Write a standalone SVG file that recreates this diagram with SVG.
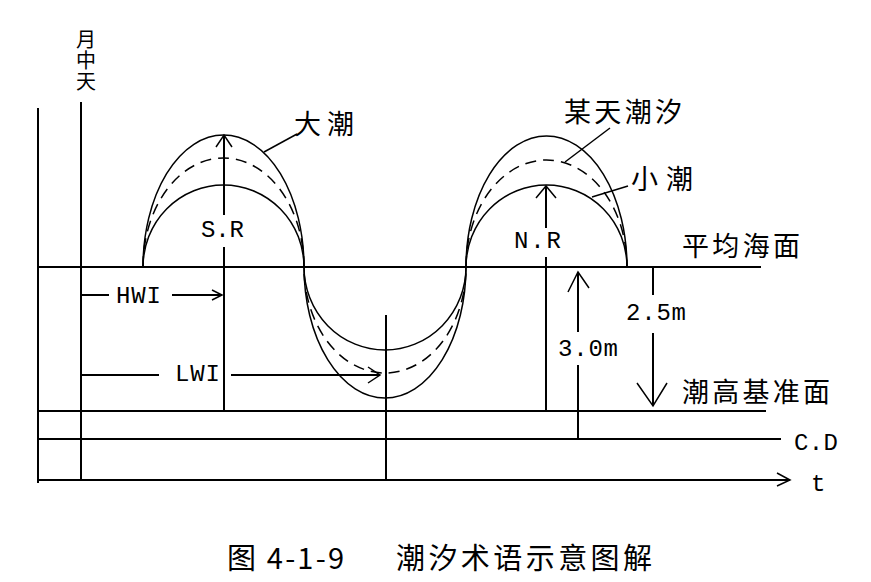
<svg xmlns="http://www.w3.org/2000/svg" width="871" height="582" viewBox="0 0 871 582">
<style>
.ln{stroke:#000;stroke-width:2;fill:none}
.cv{stroke:#000;stroke-width:1.5;fill:none}
.ds{stroke-dasharray:11 7}
.ar{stroke:#000;stroke-width:1.5;fill:none}
.zh{font-family:"Noto Sans CJK SC","Noto Sans",sans-serif;font-size:27px;fill:#000}
.vt{font-family:"Noto Sans CJK SC","Noto Sans",sans-serif;font-size:20px;fill:#000;writing-mode:vertical-rl;letter-spacing:1px}
.mo{font-family:"Liberation Mono",monospace;font-size:24px;fill:#000}
.cap{font-family:"Noto Sans CJK SC","Noto Sans",sans-serif;font-size:29px;fill:#000}
</style>
<rect width="871" height="582" fill="#fff"/>
<g id="axes">
<path class="ln" d="M38,108V483 M81,102V480 M38,267H761 M38,411H766 M38,439H781 M38,480H790"/>
<path class="ar" d="M777,473L790,480L777,486"/>
</g>
<g id="tides">
<path id="spring" class="cv" d="M143,267A80.5,132 0 0 1 304,267A81,131 0 0 0 466,267A80.5,131 0 0 1 627,267"/>
<path id="someday" class="cv ds" d="M143,267A80.5,109 0 0 1 304,267A81,106 0 0 0 466,267A80.5,107 0 0 1 627,267"/>
<path id="neap" class="cv" d="M143,267A80.5,82 0 0 1 304,267A81,83 0 0 0 466,267A80.5,82 0 0 1 627,267"/>
</g>
<g id="connectors">
<path class="ln" d="M224,135V215 M224,247V411"/>
<path class="ar" d="M216,147L224,135L232,147"/>
<path class="ln" d="M546,186V228 M546,257V411"/>
<path class="ar" d="M536,198L546,186L556,198"/>
<path class="ln" d="M386,315V480"/>
<path class="ln" d="M82,295H109 M172,295H222"/>
<path class="ar" d="M212,290L222,295L212,300"/>
<path class="ln" d="M82,375H159 M231,375H380"/>
<path class="ar" d="M368,367L380,375L368,383"/>
<path class="ln" d="M653,267V295 M653,333V406"/>
<path class="ar" d="M637,383L653,406L667,383"/>
<path class="ln" d="M578,272V332 M578,365V438"/>
<path class="ar" d="M568,292L578,272L589,288"/>
<path class="ar" d="M264,152L297,134"/>
<path class="ar" d="M610,128L565,162"/>
<path class="ar" d="M628,186L592,197"/>
</g>
<g id="labels">
<text class="vt" x="86" y="29">月中天</text>
<text class="zh" x="294" y="134" textLength="60" lengthAdjust="spacing">大潮</text>
<text class="zh" x="564" y="122" textLength="118" lengthAdjust="spacing">某天潮汐</text>
<text class="zh" x="631" y="189" textLength="62" lengthAdjust="spacing">小潮</text>
<text class="zh" x="682" y="256" textLength="118" lengthAdjust="spacing">平均海面</text>
<text class="zh" x="682" y="402" textLength="148" lengthAdjust="spacing">潮高基准面</text>
<text class="mo" x="116" y="303" textLength="45" lengthAdjust="spacing">HWI</text>
<text class="mo" x="175" y="381" textLength="45" lengthAdjust="spacing">LWI</text>
<text class="mo" x="201" y="237" textLength="43" lengthAdjust="spacing">S.R</text>
<text class="mo" x="514" y="248" textLength="47" lengthAdjust="spacing">N.R</text>
<text class="mo" x="626" y="320" textLength="60" lengthAdjust="spacing">2.5m</text>
<text class="mo" x="558" y="356" textLength="60" lengthAdjust="spacing">3.0m</text>
<text class="mo" x="794" y="450" textLength="44" lengthAdjust="spacing">C.D</text>
<text class="mo" x="811" y="491">t</text>
</g>
<g id="caption">
<text class="cap" x="227" y="569" textLength="117" lengthAdjust="spacing">图 4-1-9</text>
<text class="cap" x="396" y="569" textLength="256" lengthAdjust="spacing">潮汐术语示意图解</text>
</g>
</svg>
